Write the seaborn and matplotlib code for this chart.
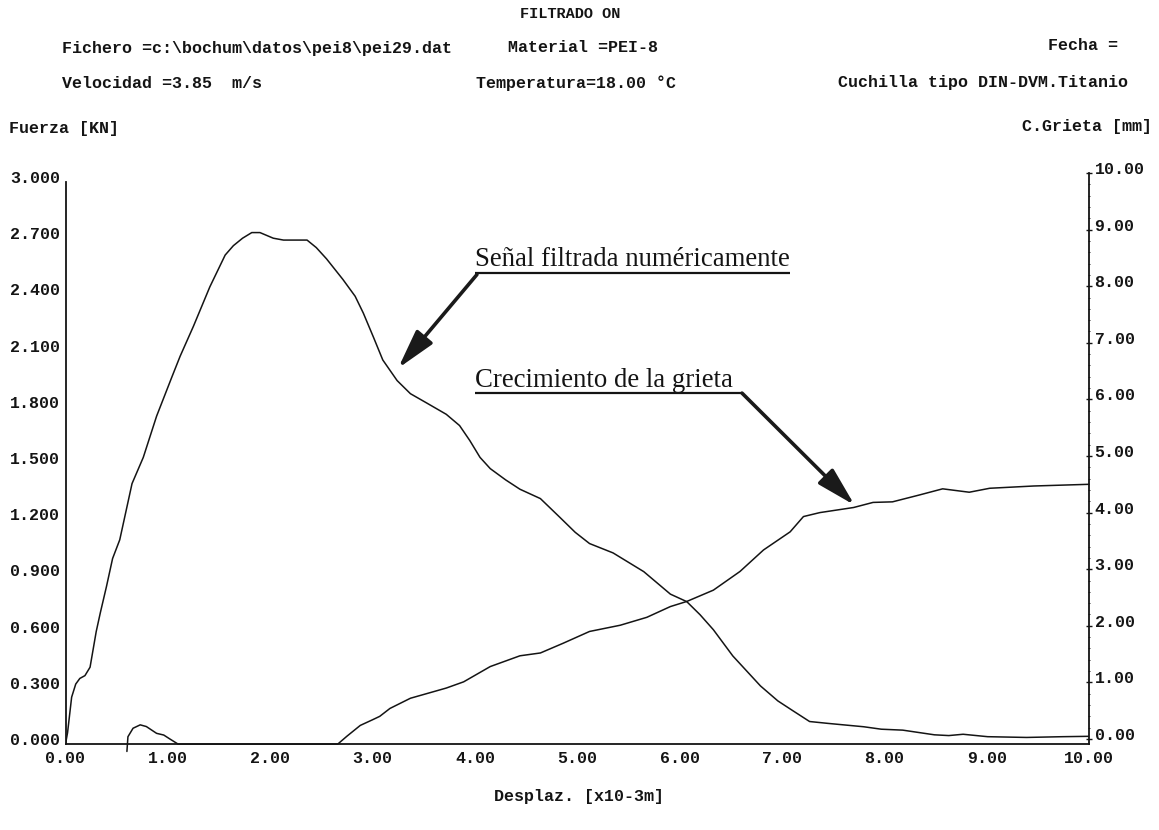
import matplotlib
matplotlib.use("Agg")
import matplotlib.pyplot as plt
import matplotlib.transforms as mtransforms
from matplotlib.ticker import MultipleLocator, FormatStrFormatter
import seaborn as sns
import pandas as pd

# ---------------- data ----------------
desplaz_fuerza = [0.00, 0.02, 0.06, 0.10, 0.14, 0.19, 0.24, 0.30, 0.34, 0.40, 0.46,
                  0.53, 0.65, 0.76, 0.89, 1.04, 1.12, 1.25, 1.41, 1.56, 1.64, 1.73,
                  1.82, 1.90, 2.03, 2.13, 2.23, 2.36, 2.45, 2.55, 2.71, 2.83, 2.91,
                  3.01, 3.10, 3.24, 3.37, 3.53, 3.72, 3.85, 3.95, 4.05, 4.15, 4.30,
                  4.44, 4.64, 4.83, 4.98, 5.12, 5.35, 5.65, 5.91, 6.07, 6.20, 6.33,
                  6.52, 6.79, 6.96, 7.10, 7.27, 7.45, 7.80, 7.97, 8.18, 8.49, 8.63,
                  8.77, 9.01, 9.39, 9.74, 10.00]
fuerza = [0.000, 0.060, 0.250, 0.320, 0.350, 0.365, 0.410, 0.600, 0.700, 0.840, 0.990,
          1.090, 1.390, 1.530, 1.750, 1.960, 2.070, 2.230, 2.440, 2.610, 2.660, 2.700,
          2.730, 2.730, 2.700, 2.690, 2.690, 2.690, 2.650, 2.590, 2.480, 2.390, 2.300,
          2.170, 2.050, 1.940, 1.870, 1.820, 1.760, 1.700, 1.620, 1.530, 1.470, 1.410,
          1.360, 1.310, 1.210, 1.130, 1.070, 1.020, 0.920, 0.800, 0.760, 0.690, 0.610,
          0.470, 0.310, 0.230, 0.180, 0.120, 0.110, 0.092, 0.079, 0.074, 0.049, 0.045,
          0.052, 0.039, 0.035, 0.039, 0.041]

desplaz_grieta = [0.60, 0.61, 0.66, 0.73, 0.79, 0.89, 0.96, 1.02, 1.10, 2.66, 2.75,
                  2.88, 3.00, 3.07, 3.17, 3.37, 3.72, 3.89, 4.15, 4.44, 4.64, 4.86,
                  5.12, 5.42, 5.68, 5.91, 6.07, 6.33, 6.59, 6.82, 7.08, 7.21, 7.37,
                  7.70, 7.89, 8.08, 8.34, 8.57, 8.83, 9.03, 9.46, 10.00]
grieta = [-0.22, 0.04, 0.19, 0.25, 0.22, 0.10, 0.07, 0.00, -0.09, -0.09, 0.05,
          0.24, 0.34, 0.40, 0.54, 0.72, 0.90, 1.01, 1.28, 1.47, 1.52, 1.69,
          1.90, 2.01, 2.15, 2.34, 2.43, 2.63, 2.96, 3.34, 3.66, 3.93, 4.00,
          4.09, 4.18, 4.19, 4.31, 4.42, 4.36, 4.43, 4.47, 4.50]

x_ticks = [0, 1, 2, 3, 4, 5, 6, 7, 8, 9, 10]
y_left_ticks = [0.0, 0.3, 0.6, 0.9, 1.2, 1.5, 1.8, 2.1, 2.4, 2.7, 3.0]
y_right_ticks = [0, 1, 2, 3, 4, 5, 6, 7, 8, 9, 10]

df_f = pd.DataFrame({"x": desplaz_fuerza, "y": fuerza})
df_g = pd.DataFrame({"x": desplaz_grieta, "y": grieta})

# ---------------- figure ----------------
sns.set_style("white")
plt.rcParams["font.family"] = ["Liberation Mono", "DejaVu Sans Mono"]

W, H = 1159, 830
fig = plt.figure(figsize=(W / 100, H / 100), dpi=100)
fig.patch.set_facecolor("white")

def fx(px):
    return px / W

def fy(py):
    return 1 - py / H

INK = "#141414"
MONO = ["Liberation Mono", "DejaVu Sans Mono"]
mono = dict(family=MONO, fontweight="bold", color=INK)
TS = 12.0

# main axes (left scale)
x0, x1 = 65.5, 1089.0
yb, yt = 744.0, 182.0
ax = fig.add_axes([fx(x0), fy(yb), fx(x1) - fx(x0), fy(yt) - fy(yb)])
ax.set_facecolor("none")
sns.lineplot(data=df_f, x="x", y="y", ax=ax, sort=False, estimator=None,
             color=INK, linewidth=1.1)
ax.set_xlim(0, 10)
ax.set_ylim(0, 3.0)
ax.set_xticks(x_ticks)
ax.set_yticks(y_left_ticks)
ax.xaxis.set_major_formatter(FormatStrFormatter("%.2f"))
ax.yaxis.set_major_formatter(FormatStrFormatter("%.3f"))
ax.xaxis.set_minor_locator(MultipleLocator(0.2))
ax.yaxis.set_minor_locator(MultipleLocator(0.06))
ax.set_xlabel("")
ax.set_ylabel("")
for s in ["top", "right"]:
    ax.spines[s].set_visible(False)
for s in ["left", "bottom"]:
    ax.spines[s].set_color(INK)
    ax.spines[s].set_linewidth(1.3)
ax.tick_params(axis="both", which="major", direction="inout", length=4, width=1.0,
               color=INK, labelsize=TS)
ax.tick_params(axis="x", pad=3)
ax.tick_params(axis="y", pad=2)
ax.tick_params(axis="both", which="minor", direction="inout", length=2, width=0.6,
               color=INK)

off = mtransforms.ScaledTranslation(0, 5 / 100, fig.dpi_scale_trans)
for lab in ax.get_xticklabels() + ax.get_yticklabels():
    lab.set_fontfamily(MONO)
    lab.set_fontweight("bold")
    lab.set_color(INK)
for lab in ax.get_yticklabels():
    lab.set_transform(lab.get_transform() + off)

# right axes (crack length)
yt2 = 173.0
ax2 = fig.add_axes([fx(x0), fy(yb), fx(x1) - fx(x0), fy(yt2) - fy(yb)], sharex=ax)
ax2.set_facecolor("none")
sns.lineplot(data=df_g, x="x", y="y", ax=ax2, sort=False, estimator=None,
             color=INK, linewidth=1.1)
for ln in ax2.get_lines():
    ln.set_clip_on(False)
ax2.set_ylim(-0.0883, 10)
ax2.set_yticks(y_right_ticks)
ax2.yaxis.set_major_formatter(FormatStrFormatter("%.2f"))
ax2.yaxis.set_minor_locator(MultipleLocator(0.2))
ax2.yaxis.tick_right()
ax2.set_xlabel("")
ax2.set_ylabel("")
for s in ["top", "left", "bottom"]:
    ax2.spines[s].set_visible(False)
ax2.spines["right"].set_color(INK)
ax2.spines["right"].set_linewidth(1.3)
ax2.tick_params(axis="x", which="both", bottom=False, top=False,
                labelbottom=False, labeltop=False)
ax2.tick_params(axis="y", which="major", direction="inout", length=4, width=1.0,
                color=INK, labelsize=TS, pad=2, left=False, right=True,
                labelleft=False, labelright=True)
ax2.tick_params(axis="y", which="minor", direction="inout", length=2, width=0.6,
                color=INK, left=False, right=True)
for lab in ax2.get_yticklabels():
    lab.set_fontfamily(MONO)
    lab.set_fontweight("bold")
    lab.set_color(INK)
    lab.set_transform(lab.get_transform() + off)

# ---------------- header texts ----------------
hs = 12.0
fig.text(fx(570), fy(14), "FILTRADO ON", ha="center", va="center", fontsize=11, **mono)
fig.text(fx(62), fy(48), "Fichero =c:\\bochum\\datos\\pei8\\pei29.dat",
         ha="left", va="center", fontsize=hs, **mono)
fig.text(fx(508), fy(48), "Material =PEI-8", ha="left", va="center", fontsize=hs, **mono)
fig.text(fx(1118), fy(46), "Fecha =", ha="right", va="center", fontsize=hs, **mono)
fig.text(fx(62), fy(83), "Velocidad =3.85  m/s", ha="left", va="center", fontsize=hs, **mono)
fig.text(fx(476), fy(83), "Temperatura=18.00 °C", ha="left", va="center", fontsize=hs, **mono)
fig.text(fx(1128), fy(83), "Cuchilla tipo DIN-DVM.Titanio", ha="right", va="center",
         fontsize=hs, **mono)
fig.text(fx(9), fy(129), "Fuerza [KN]", ha="left", va="center", fontsize=hs, **mono)
fig.text(fx(1152), fy(127), "C.Grieta [mm]", ha="right", va="center", fontsize=hs, **mono)
fig.text(fx(579), fy(796), "Desplaz. [x10-3m]", ha="center", va="center", fontsize=hs, **mono)

# ---------------- annotations ----------------
serif = dict(family=["Liberation Serif", "DejaVu Serif"], fontsize=19.3, color=INK)
arrow_kw = dict(arrowstyle="-|>,head_length=1.2,head_width=0.32", lw=2.6, color="#1a1a1a",
                mutation_scale=20, shrinkA=0, shrinkB=0)

ax.text(4.00, 2.55, "Señal filtrada numéricamente", ha="left", va="baseline", **serif)
ax.plot([4.00, 7.08], [2.513, 2.513], color=INK, lw=1.6, solid_capstyle="butt")
ax.annotate("", xy=(3.25, 2.006), xytext=(4.02, 2.506), arrowprops=arrow_kw)

ax.text(4.00, 1.907, "Crecimiento de la grieta", ha="left", va="baseline", **serif)
ax.plot([4.00, 6.61], [1.873, 1.873], color=INK, lw=1.6, solid_capstyle="butt")
ax.annotate("", xy=(7.71, 1.275), xytext=(6.61, 1.873), arrowprops=arrow_kw)

fig.savefig("out.png", dpi=100, facecolor="white")
